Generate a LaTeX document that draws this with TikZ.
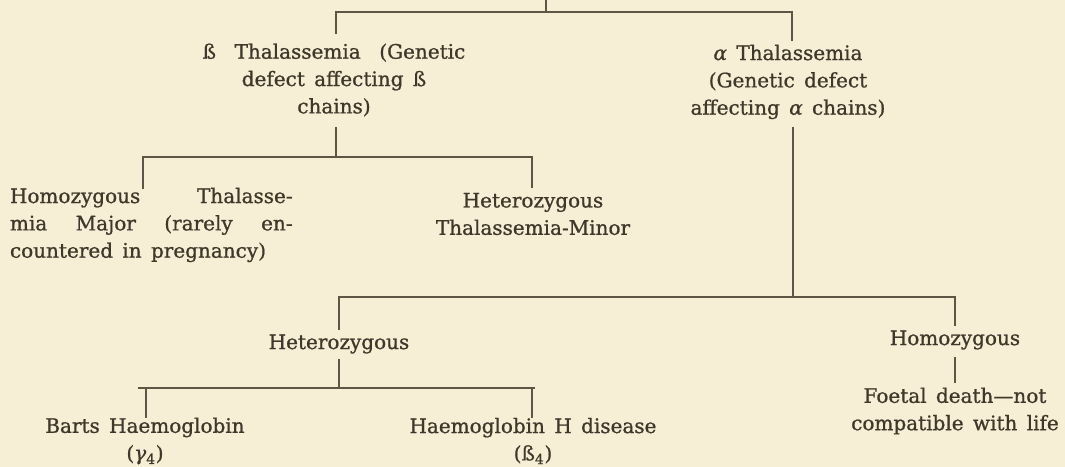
\documentclass[tikz,border=0pt]{standalone}
\usepackage{fontspec}
\setmainfont{DejaVu Serif}[FakeBold=0.9]
\newfontfamily\grk{DejaVu Serif Italic}[FakeBold=0.9]
\definecolor{paper}{HTML}{F7EFD5}
\definecolor{ink}{HTML}{3F3729}
\definecolor{rule}{HTML}{5E5645}
\newcommand\mywsp{\spaceskip=7pt plus 2pt minus 1pt\relax}
\begin{document}
\begin{tikzpicture}[x=0.75pt,y=-0.75pt,
  txt/.style={text=ink,align=center,inner sep=0pt,outer sep=0pt,
    font=\fontsize{15}{20.5}\selectfont\mywsp},
  conn/.style={draw=rule,line width=1.1pt}]
\fill[paper] (0,0) rectangle (1065,467);
\useasboundingbox (0,0) rectangle (1065,467);
% nodes
\node[txt] (beta) at (334,80) {\makebox[197pt][s]{ß Thalassemia (Genetic}\\defect affecting ß\\chains)};
\node[txt] (alpha) at (788,82) {{\grk α} Thalassemia\\(Genetic defect\\affecting {\grk α} chains)};
\node[txt,align=left,anchor=west] (homoB) at (10,225) {\makebox[212pt][s]{Homozygous Thalasse-}\\\makebox[212pt][s]{mia Major (rarely en-}\\countered in pregnancy)};
\node[txt] (hetB) at (533,214) {Heterozygous\\Thalassemia-Minor};
\node[txt] (hetA) at (339,344) {Heterozygous};
\node[txt] (homoA) at (955,340) {Homozygous};
\node[txt] (bart) at (145,441) {Barts Haemoglobin\\({\grk γ}\textsubscript{4})};
\node[txt] (hbh) at (533,441) {Haemoglobin H disease\\(ß\textsubscript{4})};
\node[txt] (foetal) at (955,411) {Foetal death—not\\compatible with life};
% junction coordinates
\coordinate (top) at (546,0);
\coordinate (j1) at (546,12);
\coordinate (bL) at (336,12);
\coordinate (bR) at (792,12);
\coordinate (bBot) at (336,34);
\coordinate (aBot) at (792,41);
\coordinate (betaOut) at (336,127);
\coordinate (j2) at (336,157);
\coordinate (h2L) at (143,157);
\coordinate (h2R) at (532,157);
\coordinate (homoBIn) at (143,189);
\coordinate (hetBIn) at (532,188);
\coordinate (alphaOut) at (793,127);
\coordinate (j3) at (793,297);
\coordinate (h3L) at (339,297);
\coordinate (h3R) at (955,297);
\coordinate (hetAIn) at (339,330);
\coordinate (homoAIn) at (955,326);
\coordinate (hetAOut) at (339,359);
\coordinate (j4) at (339,388);
\coordinate (h4L) at (138,388);
\coordinate (h4R) at (535,388);
\coordinate (bartTop) at (146,388);
\coordinate (bartIn) at (146,418);
\coordinate (hbhTop) at (532,388);
\coordinate (hbhIn) at (532,418);
\coordinate (homoAOut) at (955,357);
\coordinate (foetalIn) at (955,383);
% connectors
\draw[conn] (top) -- (j1);
\draw[conn] (bBot) -- (bL) -- (bR) -- (aBot);
\draw[conn] (betaOut) -- (j2);
\draw[conn] (homoBIn) -- (h2L) -- (h2R) -- (hetBIn);
\draw[conn] (alphaOut) -- (j3);
\draw[conn] (hetAIn) -- (h3L) -- (h3R) -- (homoAIn);
\draw[conn] (hetAOut) -- (j4);
\draw[conn] (h4L) -- (h4R);
\draw[conn] (bartTop) -- (bartIn);
\draw[conn] (hbhTop) -- (hbhIn);
\draw[conn] (homoAOut) -- (foetalIn);
\end{tikzpicture}
\end{document}
